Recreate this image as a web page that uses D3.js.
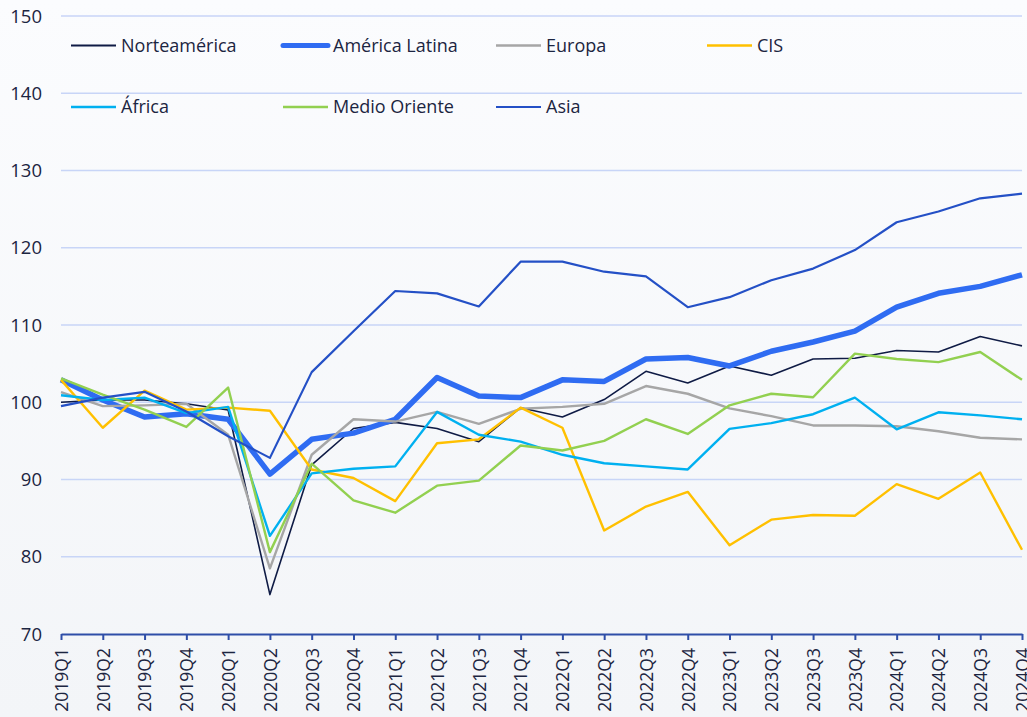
<!DOCTYPE html>
<html>
<head>
<meta charset="utf-8">
<script src="https://cdn.jsdelivr.net/npm/d3@7"></script>
<style>
  html, body { margin: 0; padding: 0; background: #f8f9fc; }
  svg { display: block; }
  text { font-family: "Open Sans", "Liberation Sans", sans-serif; fill: #1c2541; }
</style>
</head>
<body>
<svg id="chart" width="1027" height="717"></svg>
<script>
const categories = ["2019Q1","2019Q2","2019Q3","2019Q4","2020Q1","2020Q2","2020Q3","2020Q4",
  "2021Q1","2021Q2","2021Q3","2021Q4","2022Q1","2022Q2","2022Q3","2022Q4",
  "2023Q1","2023Q2","2023Q3","2023Q4","2024Q1","2024Q2","2024Q3","2024Q4"];

const norteamerica = [100.0,100.3,100.3,99.8,99.0,75.1,91.9,96.6,97.4,96.6,94.9,99.3,98.1,100.35,104.0,102.5,104.7,103.5,105.6,105.7,106.7,106.5,108.5,107.3];
const americaLatina = [102.9,100.3,98.1,98.5,97.8,90.7,95.2,96.0,97.8,103.2,100.8,100.6,102.9,102.7,105.6,105.8,104.7,106.6,107.8,109.2,112.3,114.1,115.0,116.5];
const europa = [101.3,99.5,99.6,99.8,95.8,78.5,93.2,97.8,97.5,98.75,97.2,99.15,99.4,99.8,102.1,101.1,99.2,98.2,97.0,97.0,96.9,96.25,95.4,95.2];
const cis = [102.9,96.7,101.5,99.05,99.3,98.9,91.3,90.2,87.2,94.7,95.2,99.3,96.7,83.4,86.5,88.4,81.5,84.8,85.4,85.3,89.4,87.5,90.9,80.9];
const africa = [100.9,100.3,100.6,98.6,99.4,82.7,90.8,91.4,91.7,98.75,95.8,94.9,93.2,92.1,91.7,91.3,96.55,97.3,98.45,100.6,96.5,98.7,98.3,97.8];
const medioOriente = [103.1,101.0,99.05,96.8,101.9,80.6,92.05,87.3,85.7,89.2,89.85,94.4,93.75,95.0,97.8,95.9,99.6,101.1,100.65,106.3,105.6,105.2,106.5,102.9];
const asia = [99.5,100.6,101.35,98.8,95.6,92.8,103.9,109.2,114.4,114.1,112.4,118.2,118.2,116.9,116.3,112.3,113.6,115.8,117.3,119.7,123.3,124.7,126.4,127.0];

const seriesNames = ["Norteamérica","América Latina","Europa","CIS","África","Medio Oriente","Asia"];
const yTicks = [70,80,90,100,110,120,130,140,150];

const seriesValues = [norteamerica, americaLatina, europa, cis, africa, medioOriente, asia];
const styles = [
  {color:"#0f1b45", width:1.6},
  {color:"#2f6cf2", width:5.5},
  {color:"#a6a6a6", width:2.4},
  {color:"#ffc000", width:2.4},
  {color:"#00b0f0", width:2.4},
  {color:"#92d050", width:2.4},
  {color:"#2450c6", width:2.2}
];

const svg = d3.select("#chart");
const W = 1027, H = 717;

// background gradient
const defs = svg.append("defs");
const grad = defs.append("linearGradient").attr("id","bg").attr("x1",0).attr("y1",0).attr("x2",0).attr("y2",1);
grad.append("stop").attr("offset","0%").attr("stop-color","#fbfcfe");
grad.append("stop").attr("offset","100%").attr("stop-color","#f3f5f8");
svg.append("rect").attr("width",W).attr("height",H).attr("fill","url(#bg)");

const x = d3.scalePoint().domain(categories).range([61, 1022]);
const y = d3.scaleLinear().domain([70,150]).range([634, 16]);

// gridlines
svg.append("g").selectAll("line").data(yTicks.filter(t => t !== 70)).join("line")
  .attr("x1", 61).attr("x2", 1022)
  .attr("y1", d => y(d)).attr("y2", d => y(d))
  .attr("stroke", "#c8d5f7").attr("stroke-width", 1.5);

// y labels
svg.append("g").selectAll("text").data(yTicks).join("text")
  .attr("x", 42).attr("y", d => y(d)).attr("dy","0.36em")
  .attr("text-anchor","end").attr("font-size","18.5px")
  .text(d => d);

// x axis
const xAxis = svg.append("g").attr("transform","translate(0,634)")
  .call(d3.axisBottom(x).tickSize(6).tickSizeOuter(0));
xAxis.select(".domain").attr("stroke","#2f4ea8").attr("stroke-width",2);
xAxis.selectAll(".tick line").attr("stroke","#2f4ea8").attr("stroke-width",2);
xAxis.selectAll(".tick text")
  .attr("font-family", "\"Open Sans\", \"Liberation Sans\", sans-serif")
  .attr("font-size","17.5px").attr("fill","#1c2541")
  .attr("transform","rotate(-90)")
  .attr("text-anchor","end")
  .attr("x", -14).attr("y", 0).attr("dy","0.36em");

// lines
const line = d3.line().x((d,i) => x(categories[i])).y(d => y(d));
svg.append("g").selectAll("path").data(seriesValues).join("path")
  .attr("d", d => line(d))
  .attr("fill","none")
  .attr("stroke", (d,i) => styles[i].color)
  .attr("stroke-width", (d,i) => styles[i].width)
  .attr("stroke-linejoin","round");

// legend
const legCols = [71, 283, 496, 707];
const legRows = [45.5, 107];
const leg = svg.append("g").selectAll("g").data(seriesNames).join("g")
  .attr("transform", (d,i) => `translate(${legCols[i % 4]},${legRows[Math.floor(i/4)]})`);
leg.append("line").attr("x1",0).attr("x2",45).attr("y1",0).attr("y2",0)
  .attr("stroke",(d,i)=>styles[i].color)
  .attr("stroke-width",(d,i)=> i===1 ? 5 : Math.max(2, styles[i].width))
  .attr("stroke-linecap", (d,i)=> i===1 ? "round" : "butt");
leg.append("text").attr("x",50).attr("y",0).attr("dy","0.36em")
  .attr("font-size","18px").text(d => d);
</script>
</body>
</html>
